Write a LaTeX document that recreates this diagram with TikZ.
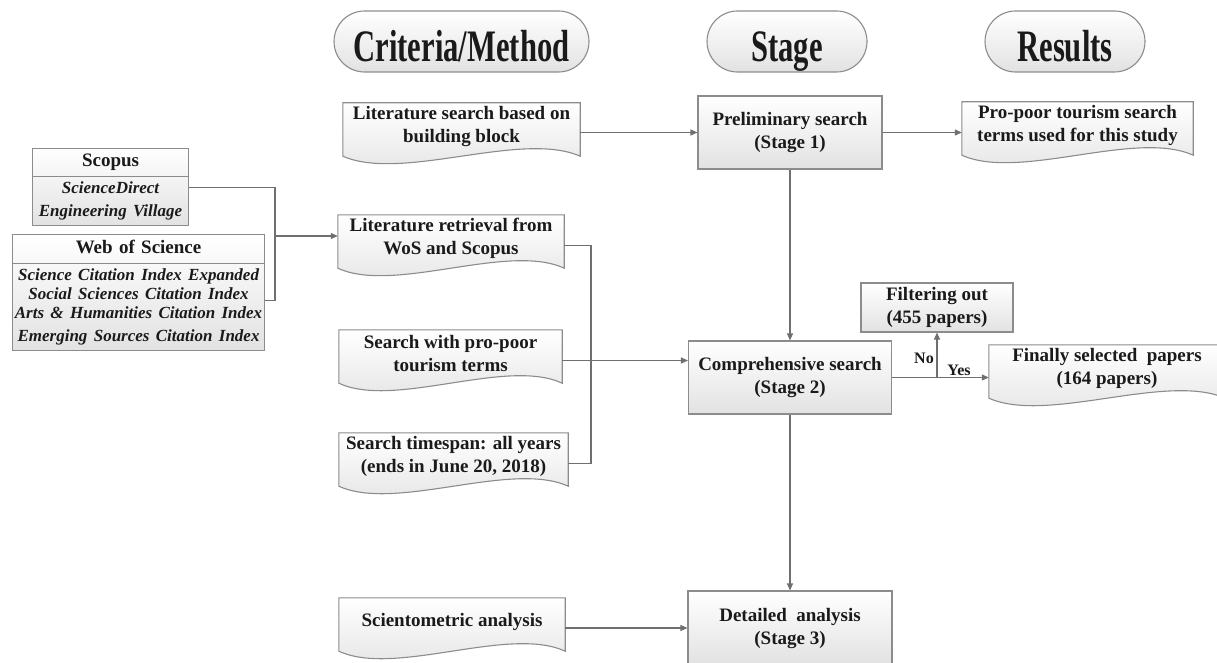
\documentclass[tikz,border=0pt]{standalone}
\usepackage{fontspec}
\setmainfont{Liberation Serif}
\usetikzlibrary{arrows.meta,positioning,shapes.multipart,shapes.misc,calc,backgrounds}

\definecolor{linegray}{HTML}{6F6F6F}
\definecolor{edgegray}{HTML}{8C8C8C}
\definecolor{inkdark}{HTML}{1A1A1A}
\definecolor{shadegray}{HTML}{E2E2E2}

\hyphenpenalty=10000
\newcommand{\listfont}{\fontsize{17}{19}\selectfont\bfseries\itshape}
\newcommand{\headtext}[1]{\scalebox{0.68}[1]{#1}}
% document outline with a wavy bottom, drawn round a text node
\newcommand{\docoutline}[1]{%
  \path[draw=edgegray, line width=1.1pt, top color=white, bottom color=shadegray]
    let \p1=(#1.south west), \p2=(#1.north east) in
    (\x1,{\y1-6pt}) -- (\x1,\y2) -- (\x2,\y2) -- (\x2,{\y1-6pt})
    .. controls ({0.75*\x2+0.25*\x1},{\y1+20pt}) and ({0.25*\x2+0.75*\x1},{\y1-32pt}) .. (\x1,{\y1-6pt}) -- cycle;}

\begin{document}
\begin{tikzpicture}[x=1pt,y=-1pt,
  every node/.style={text=inkdark, font=\bfseries\fontsize{19}{23}\selectfont},
  flow/.style={draw=linegray, line width=1.1pt},
  arr/.style={flow, -{Triangle[length=7pt,width=6pt]}},
  stagebox/.style={draw=edgegray, line width=1.1pt, top color=white, bottom color=shadegray, align=center, inner sep=0pt},
  docnode/.style={align=center, inner sep=0pt, minimum height=47pt},
  headpill/.style={rounded rectangle, draw=edgegray, line width=1.1pt, top color=white, bottom color=shadegray, minimum height=61pt, inner sep=0pt, text height=40pt, text depth=0pt, font=\bfseries\fontsize{45}{45}\selectfont},
  dbbox/.style={rectangle split, rectangle split parts=2, draw=edgegray, line width=1.1pt, top color=white, bottom color=shadegray, align=center, anchor=north west, inner xsep=0pt, inner ysep=5pt},
  yesno/.style={font=\bfseries\fontsize{16}{16}\selectfont, inner sep=0pt}]
\useasboundingbox (0,0) rectangle (1217,663);

% column headers
\node[headpill, minimum width=255pt] (crit) at (461.5,41.5) {\headtext{Criteria/Method}};
\node[headpill, minimum width=160pt] (stage) at (787,41.5) {\headtext{Stage}};
\node[headpill, minimum width=160pt] (results) at (1065,41.5) {\headtext{Results}};

% databases
\node[dbbox, text width=156pt] (scopus) at (32,148) {\vphantom{Sp}Scopus\nodepart{two}\listfont ScienceDirect\\Engineering Village};
\node[dbbox, text width=252pt] (wos) at (12,234) {\vphantom{Sp}Web of Science\nodepart{two}\listfont Science Citation Index Expanded\\Social Sciences Citation Index\\Arts \& Humanities Citation Index\\Emerging Sources Citation Index};

% criteria / method
\node[docnode, minimum width=237pt] (litsearch) at (461.5,126.5) {Literature search based on\\building block};
\node[docnode, minimum width=226pt] (litret) at (451,238.5) {Literature retrieval from\\WoS and Scopus};
\node[docnode, minimum width=223pt] (search) at (450.5,353.5) {Search with pro-poor\\tourism terms};
\node[docnode, minimum width=229pt] (timespan) at (453.5,456.5) {Search timespan: all years\\(ends in June 20, 2018)};
\node[docnode, minimum width=226pt] (sciento) at (452,621.5) {Scientometric analysis};

% stages
\node[stagebox, minimum width=184pt, minimum height=73pt] (prelim) at (790,132.5) {Preliminary search\\(Stage 1)};
\node[stagebox, minimum width=203pt, minimum height=73pt] (comp) at (790,377.5) {Comprehensive search\\(Stage 2)};
\node[stagebox, minimum width=204pt, minimum height=74pt] (detail) at (790,628) {Detailed~~analysis\\(Stage 3)};

% results
\node[docnode, minimum width=231pt] (propoor) at (1077.5,125.5) {Pro-poor tourism search\\terms used for this study};
\node[stagebox, minimum width=152pt, minimum height=49pt] (filter) at (937,307.5) {Filtering out\\(455 papers)};
\node[docnode, minimum width=236pt] (final) at (1107,368.5) {Finally selected~~papers\\(164 papers)};

\begin{scope}[on background layer]
\foreach \docname in {litsearch,litret,search,timespan,sciento,propoor,final} {\docoutline{\docname}}
\end{scope}

% connectors
\coordinate (lbar) at (275,236);
\coordinate (rbar) at (591,356);
\coordinate (split) at (filter.south |- comp.east);
\draw[flow] (scopus.east) -| (lbar) |- ($(wos.north east)!0.57!(wos.south east)$);
\draw[arr] (lbar) -- (lbar -| litret.west);
\draw[arr] (litsearch.east |- prelim.west) -- (prelim.west);
\draw[arr] (prelim.east) -- (prelim.east -| propoor.west);
\draw[flow] ([yshift=-7pt]litret.east) -| (rbar) |- ([yshift=-7pt]timespan.east);
\draw[arr] ([yshift=-7pt]search.east) -- ([yshift=-7pt]search.east -| comp.west);
\draw[arr] (sciento.east |- detail.west) -- (detail.west);
\draw[arr] (prelim.south) -- (comp.north);
\draw[arr] (comp.south) -- (detail.north);
\draw[flow] (comp.east) -- (split);
\draw[arr] (split) -- (split -| final.west);
\draw[arr] (split) -- (filter.south);
\node[yesno] (no) at (924,358) {No};
\node[yesno] (yes) at (959,370) {Yes};
\end{tikzpicture}
\end{document}
